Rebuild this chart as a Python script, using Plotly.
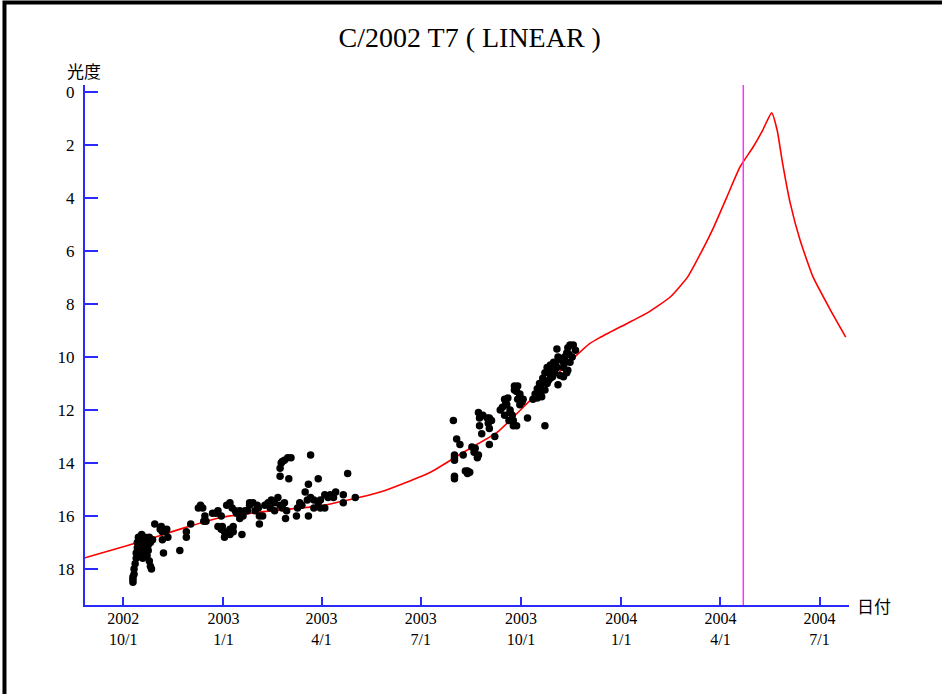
import plotly.graph_objects as go

# ---------------- data ----------------
title_text = "C/2002 T7 ( LINEAR )"
y_label = "光度"
x_label = "日付"

# predicted light curve (red)
curve_dates = ["2002-08-27", "2002-10-23", "2002-11-26", "2002-12-31", "2003-02-22", "2003-03-31",
               "2003-05-25", "2003-07-10", "2003-08-09", "2003-09-09", "2003-10-10", "2003-10-23",
               "2003-11-09", "2003-12-03", "2003-12-12", "2003-12-31", "2004-01-25", "2004-02-15",
               "2004-03-02", "2004-03-14", "2004-03-26", "2004-04-07", "2004-04-19", "2004-05-01",
               "2004-05-10", "2004-05-18", "2004-05-23", "2004-05-28", "2004-06-04", "2004-06-13",
               "2004-06-25", "2004-07-11", "2004-07-25"]
curve_mags = [17.58, 16.9, 16.45, 16.05, 15.77, 15.62,
              15.1, 14.35, 13.6, 12.85, 11.62, 11.17,
              10.4, 9.5, 9.28, 8.87, 8.34, 7.74,
              6.98, 6.08, 5.09, 3.96, 2.83, 2.08,
              1.43, 0.79, 1.43, 2.68, 4.19, 5.58,
              6.98, 8.23, 9.25]

# observations, first season (2002-10 .. 2003-05)
obs1_dates = ["2002-10-10", "2002-10-10", "2002-10-10", "2002-10-11", "2002-10-11", "2002-10-12",
              "2002-10-13", "2002-10-13", "2002-10-14", "2002-10-14", "2002-10-15", "2002-10-15",
              "2002-10-16", "2002-10-16", "2002-10-17", "2002-10-17", "2002-10-18", "2002-10-18",
              "2002-10-19", "2002-10-19", "2002-10-20", "2002-10-20", "2002-10-21", "2002-10-21",
              "2002-10-22", "2002-10-22", "2002-10-23", "2002-10-23", "2002-10-24", "2002-10-24",
              "2002-10-25", "2002-10-25", "2002-10-26", "2002-10-26", "2002-10-27", "2002-10-28",
              "2002-10-30", "2002-11-04", "2002-11-05", "2002-11-06", "2002-11-06", "2002-11-07",
              "2002-11-09", "2002-11-10", "2002-11-11", "2002-11-22", "2002-11-28", "2002-11-28",
              "2002-12-02",
              "2002-12-09", "2002-12-11", "2002-12-13", "2002-12-14", "2002-12-15", "2002-12-16",
              "2002-12-22", "2002-12-25", "2002-12-27", "2002-12-30", "2002-12-27", "2002-12-30",
              "2002-12-31", "2003-01-02", "2003-01-04", "2003-01-02", "2003-01-07", "2003-01-10",
              "2003-01-07", "2003-01-10", "2003-01-18", "2003-01-04", "2003-01-07", "2003-01-09",
              "2003-01-12", "2003-01-13", "2003-01-16", "2003-01-16", "2003-01-19", "2003-01-21",
              "2003-01-23", "2003-01-25", "2003-01-25", "2003-01-28", "2003-02-01", "2003-01-30",
              "2003-02-02", "2003-02-03", "2003-02-06", "2003-02-03", "2003-02-08", "2003-02-11",
              "2003-02-13", "2003-02-14", "2003-02-17", "2003-02-17", "2003-02-20", "2003-02-22",
              "2003-02-24", "2003-02-26", "2003-02-28", "2003-02-27",
              "2003-02-22", "2003-02-23", "2003-02-24", "2003-02-26", "2003-03-01", "2003-03-04",
              "2003-02-22", "2003-03-02",
              "2003-03-09", "2003-03-10", "2003-03-12", "2003-03-14", "2003-03-19", "2003-03-22",
              "2003-03-25", "2003-03-29", "2003-03-31", "2003-03-20", "2003-03-25", "2003-03-31",
              "2003-04-04", "2003-04-04", "2003-04-07", "2003-04-09", "2003-04-12", "2003-04-14",
              "2003-04-21", "2003-04-21", "2003-05-02", "2003-03-22", "2003-03-29", "2003-03-20",
              "2003-03-17", "2003-04-25"]
obs1_mags = [18.5, 18.4, 18.3, 18.2, 18.0, 17.8,
             17.6, 17.4, 17.2, 17.0, 16.8, 17.3,
             17.1, 16.9, 17.2, 17.5, 16.7, 17.0,
             17.3, 17.6, 16.9, 17.1, 17.4, 16.8,
             17.0, 17.2, 17.5, 16.9, 17.1, 17.3,
             17.7, 16.8, 17.0, 17.9, 18.0, 16.9,
             16.3, 16.5, 16.4, 16.6, 16.9, 17.4,
             16.6, 16.5, 16.8, 17.3, 16.6, 16.8,
             16.3,
             15.7, 15.6, 15.7, 16.2, 16.0, 16.2,
             15.9, 15.9, 15.8, 16.0, 16.4, 16.5,
             16.4, 16.6, 16.7, 16.8, 16.5, 16.4,
             16.7, 16.6, 16.7, 15.6, 15.5, 15.7,
             15.8, 15.9, 16.1, 15.8, 16.0, 15.8,
             15.8, 15.6, 15.5, 15.5, 15.6, 15.8,
             15.7, 16.0, 16.0, 16.3, 15.6, 15.5,
             15.7, 15.4, 15.5, 15.8, 15.3, 15.6,
             15.7, 15.5, 15.8, 16.1,
             14.2, 14.0, 13.95, 13.9, 13.8, 13.8,
             14.5, 14.6,
             16.0, 15.7, 15.5, 15.6, 15.4, 15.3,
             15.4, 15.5, 15.4, 16.0, 15.7, 15.7,
             15.7, 15.2, 15.3, 15.2, 15.3, 15.1,
             15.2, 15.5, 15.3, 13.7, 14.6, 14.8,
             15.1, 14.4]

# observations, second season (2003-07 .. 2003-11)
obs2_dates = ["2003-07-31", "2003-08-03", "2003-08-06", "2003-08-01", "2003-08-01", "2003-08-01",
              "2003-08-01", "2003-08-01", "2003-08-09", "2003-08-11", "2003-08-13", "2003-08-13",
              "2003-08-15", "2003-08-17", "2003-08-20", "2003-08-19", "2003-08-22", "2003-08-23",
              "2003-08-24", "2003-08-26", "2003-08-23", "2003-08-24", "2003-08-27", "2003-08-31",
              "2003-09-02", "2003-09-01", "2003-09-02", "2003-09-04", "2003-09-02", "2003-09-07",
              "2003-09-12", "2003-09-16", "2003-09-18", "2003-09-19", "2003-09-21", "2003-09-23",
              "2003-09-24", "2003-09-16", "2003-09-20", "2003-09-24", "2003-09-27", "2003-09-25",
              "2003-09-27", "2003-09-30", "2003-09-28", "2003-09-30", "2003-10-03", "2003-09-28",
              "2003-10-07", "2003-10-16", "2003-10-17", "2003-10-19", "2003-10-20", "2003-10-21",
              "2003-10-23", "2003-10-25", "2003-10-28", "2003-10-31", "2003-11-03", "2003-11-01",
              "2003-10-30", "2003-10-26", "2003-10-23", "2003-10-19", "2003-10-20", "2003-10-25",
              "2003-10-28", "2003-10-31", "2003-11-04", "2003-10-23", "2003-11-03", "2003-11-04",
              "2003-11-09", "2003-11-10", "2003-11-12", "2003-11-13", "2003-11-15", "2003-11-18",
              "2003-11-20", "2003-11-17", "2003-11-15", "2003-11-13", "2003-11-12", "2003-11-09",
              "2003-11-06", "2003-11-09", "2003-10-14", "2003-10-12", "2003-10-16", "2003-10-18",
              "2003-10-22", "2003-10-27", "2003-11-02", "2003-11-06", "2003-11-11", "2003-11-14",
              "2003-09-14", "2003-09-17", "2003-09-21", "2003-09-25", "2003-09-30", "2003-10-02"]
obs2_mags = [12.4, 13.1, 13.3, 13.7, 13.9, 13.8,
             14.6, 14.5, 13.7, 14.3, 14.4, 14.3,
             14.35, 13.4, 13.45, 13.6, 13.8, 13.7,
             12.6, 12.9, 12.1, 12.3, 12.2, 12.3,
             12.3, 12.5, 12.7, 12.4, 13.3, 13.0,
             12.0, 11.6, 11.8, 11.55, 12.0, 12.2,
             12.4, 12.2, 12.4, 12.6, 12.6, 11.1,
             11.3, 11.4, 11.6, 11.8, 11.6, 11.1,
             12.3, 11.55, 11.35, 11.2, 11.0, 10.8,
             10.6, 10.4, 10.3, 10.2, 10.4, 10.6,
             10.75, 10.9, 11.25, 11.4, 11.5, 11.0,
             10.8, 10.5, 11.05, 12.6, 9.7, 10.0,
             10.2, 10.0, 9.85, 9.65, 9.55, 9.55,
             9.75, 10.0, 10.2, 10.5, 10.6, 10.4,
             10.7, 10.75, 11.4, 11.6, 11.2, 11.0,
             10.9, 10.6, 10.3, 10.1, 10.2, 9.9,
             11.9, 11.7, 12.1, 11.25, 11.5, 11.7]

current_date = "2004-04-22"

x_tick_dates = ["2002-10-01", "2003-01-01", "2003-04-01", "2003-07-01",
                "2003-10-01", "2004-01-01", "2004-04-01", "2004-07-01"]
x_tick_labels = ["2002<br>10/1", "2003<br>1/1", "2003<br>4/1", "2003<br>7/1",
                 "2003<br>10/1", "2004<br>1/1", "2004<br>4/1", "2004<br>7/1"]
y_tick_vals = [0, 2, 4, 6, 8, 10, 12, 14, 16, 18]

x_range = ["2002-08-27", "2004-07-28"]
y_range = [19.36, -0.26]

# ---------------- figure ----------------
AXIS_BLUE = "#2a2aff"
SERIF = "Liberation Serif, Times New Roman, serif"
CJK = "Noto Sans CJK JP, Noto Sans, sans-serif"

fig = go.Figure()

fig.add_trace(go.Scatter(
    x=curve_dates, y=curve_mags, mode="lines",
    line=dict(color="#ff0000", width=1.6, shape="spline", smoothing=0.5),
    hoverinfo="skip"))

fig.add_trace(go.Scatter(
    x=obs1_dates + obs2_dates, y=obs1_mags + obs2_mags, mode="markers",
    marker=dict(color="black", size=7.5, line=dict(width=0)), hoverinfo="x+y"))

fig.add_shape(type="line", xref="x", yref="paper",
              x0=current_date, x1=current_date, y0=0, y1=1,
              line=dict(color="#ff33ff", width=1.5))

# outer frame (only left/top edges fall inside the page)
fig.add_shape(type="rect", xref="paper", yref="paper",
              x0=-0.1054, x1=1.5, y0=-0.5, y1=1.1587,
              line=dict(color="black", width=4), layer="below")

fig.update_layout(
    width=942, height=694,
    margin=dict(l=85, r=93, t=85, b=89),
    paper_bgcolor="white", plot_bgcolor="white",
    showlegend=False,
    title=dict(text=title_text, x=0.4987, xanchor="center",
               y=1 - 37 / 694, yref="container", yanchor="middle",
               font=dict(family=SERIF, size=28, color="black")),
    xaxis=dict(
        type="date", range=x_range,
        tickvals=x_tick_dates, ticktext=x_tick_labels,
        showgrid=False, zeroline=False,
        showline=True, linecolor=AXIS_BLUE, linewidth=2,
        ticks="inside", ticklen=8, tickwidth=2, tickcolor=AXIS_BLUE,
        tickfont=dict(family=SERIF, size=16, color="black"),
        ticklabelstandoff=-2,
    ),
    yaxis=dict(
        range=y_range, tickvals=y_tick_vals,
        showgrid=False, zeroline=False,
        showline=True, linecolor=AXIS_BLUE, linewidth=2,
        ticks="inside", ticklen=13, tickwidth=2, tickcolor=AXIS_BLUE,
        tickfont=dict(family=SERIF, size=17, color="black"),
        ticklabelstandoff=5,
    ),
    annotations=[
        dict(text=y_label, xref="paper", yref="paper", x=-0.0013, y=1.0288,
             xanchor="center", yanchor="middle", showarrow=False,
             font=dict(family=CJK, size=17, color="black")),
        dict(text=x_label, xref="paper", yref="paper", x=1.0327, y=0,
             xanchor="center", yanchor="middle", showarrow=False,
             font=dict(family=CJK, size=17, color="black")),
    ],
)

fig.write_html("out.html", config={"displayModeBar": False},
               post_script="document.body.style.margin='0';")
